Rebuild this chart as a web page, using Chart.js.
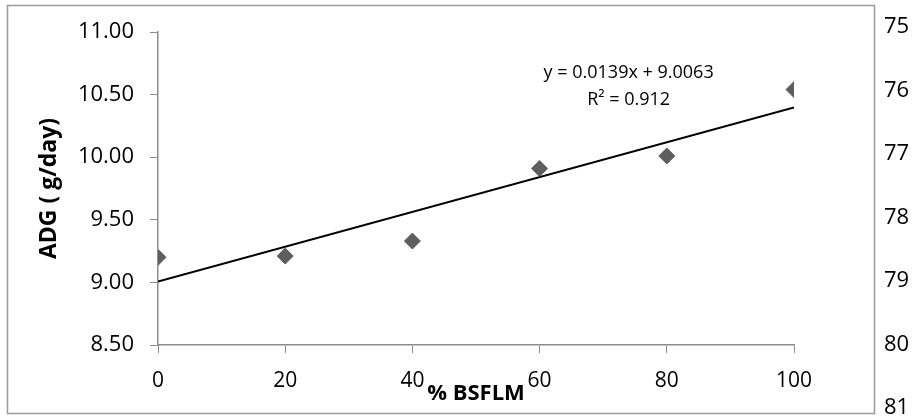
<!DOCTYPE html>
<html>
<head>
<meta charset="utf-8">
<script src="https://cdn.jsdelivr.net/npm/chart.js@4/dist/chart.umd.min.js"></script>
<style>
    html, body { margin: 0; padding: 0; background: #fff; }
    #wrap { position: relative; width: 912px; height: 417px; }
</style>
</head>
<body>
<div id="wrap"><canvas id="adgChart" width="912" height="417"></canvas></div>
<script>
// Data
const bsflmLevels = [0, 20, 40, 60, 80, 100];
const adgValues = [9.20, 9.21, 9.33, 9.91, 10.01, 10.54];

// Linear trendline (y = 0.0139x + 9.0063) end points
const trendX = [0, 100];
const trendY = [9.0063, 10.3963];
const trendLabel = ['y = 0.0139x + 9.0063', 'R² = 0.912'];
const trendLabelAt = [74, 10.67];

// Right axis range (reversed, runs past the plot area)
const rightMin = 75;
const rightMax = 81;

const FONT = '"Open Sans", sans-serif';
const AXIS_GREY = '#8c8c8c';

document.addEventListener('DOMContentLoaded', function() {
    const ctx = document.getElementById('adgChart').getContext('2d');

    // Outer frame + stretch right axis past the plot area + equation text
    const extras = {
        id: 'extras',
        afterLayout(chart) {
            const y2 = chart.scales.y2;
            y2.top = 27;
            y2.bottom = 408;
            y2.height = y2.bottom - y2.top;
            y2.configure();
        },
        afterDatasetsDraw(chart) {
            const c = chart.ctx;
            const px = chart.scales.x.getPixelForValue(trendLabelAt[0]);
            const py = chart.scales.y.getPixelForValue(trendLabelAt[1]);
            c.save();
            c.fillStyle = '#000';
            c.font = '18px ' + FONT;
            c.textAlign = 'center';
            c.textBaseline = 'middle';
            trendLabel.forEach((t, i) => c.fillText(t, px, py + i * 27));
            c.restore();
        },
        afterDraw(chart) {
            const c = chart.ctx;
            c.save();
            c.strokeStyle = '#9a9a9a';
            c.lineWidth = 1.5;
            c.strokeRect(7.5, 5.5, 867, 408);
            c.restore();
        }
    };

    new Chart(ctx, {
        type: 'scatter',
        data: {
            datasets: [{
                label: 'ADG',
                data: bsflmLevels.map((x, i) => ({ x: x, y: adgValues[i] })),
                pointStyle: 'rectRot',
                pointRadius: 8,
                pointHoverRadius: 8,
                backgroundColor: '#5e5e5e',
                borderColor: '#5e5e5e',
                borderWidth: 1,
                order: 1
            }, {
                type: 'line',
                label: 'Linear',
                data: trendX.map((x, i) => ({ x: x, y: trendY[i] })),
                borderColor: '#000',
                borderWidth: 2,
                pointRadius: 0,
                fill: false,
                order: 2
            }]
        },
        options: {
            responsive: false,
            animation: false,
            layout: { padding: { top: 32, left: 0, right: 0, bottom: 0 } },
            plugins: {
                legend: { display: false },
                tooltip: { enabled: false }
            },
            scales: {
                x: {
                    type: 'linear',
                    min: 0,
                    max: 100,
                    afterFit: function(scale) { scale.height = 72; },
                    ticks: {
                        stepSize: 20,
                        padding: 15,
                        color: '#000',
                        font: { family: FONT, size: 21 }
                    },
                    grid: { drawOnChartArea: false, color: AXIS_GREY, tickLength: 8 },
                    border: { color: AXIS_GREY, width: 1.5 },
                    title: {
                        display: true,
                        text: '% BSFLM',
                        color: '#000',
                        font: { family: FONT, size: 22, weight: 'bold' },
                        padding: { top: 0, bottom: 10 }
                    }
                },
                y: {
                    position: 'left',
                    min: 8.5,
                    max: 11,
                    afterFit: function(scale) {
                        scale.width = 158;
                        scale.paddingTop = 0;
                        scale.paddingBottom = 0;
                    },
                    ticks: {
                        stepSize: 0.5,
                        padding: 16,
                        color: '#000',
                        font: { family: FONT, size: 22 },
                        callback: function(value) { return value.toFixed(2); }
                    },
                    grid: { drawOnChartArea: false, color: AXIS_GREY, tickLength: 8 },
                    border: { color: AXIS_GREY, width: 1.5 },
                    title: {
                        display: true,
                        text: 'ADG ( g/day)',
                        color: '#000',
                        font: { family: FONT, size: 23, weight: 'bold' },
                        padding: { top: 36, bottom: 0 }
                    }
                },
                y2: {
                    position: 'right',
                    min: rightMin,
                    max: rightMax,
                    reverse: true,
                    afterFit: function(scale) {
                        scale.width = 118;
                        scale.paddingTop = 0;
                        scale.paddingBottom = 0;
                    },
                    ticks: {
                        stepSize: 1,
                        padding: 82,
                        color: '#000',
                        font: { family: FONT, size: 22 }
                    },
                    grid: { display: false },
                    border: { display: false }
                }
            }
        },
        plugins: [extras]
    });
});
</script>
</body>
</html>
